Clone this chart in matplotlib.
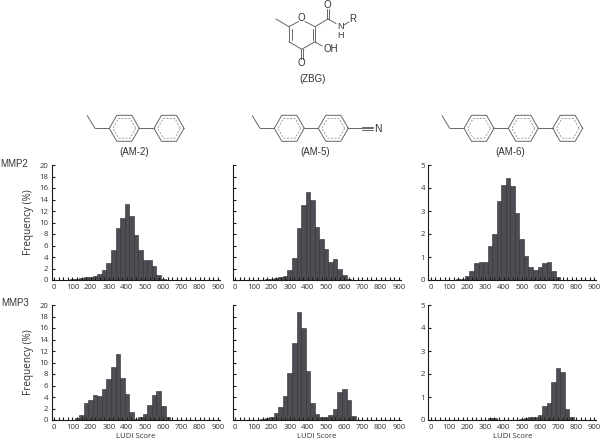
import numpy as np
import matplotlib
matplotlib.use('Agg')
import matplotlib.pyplot as plt

# frequency (%) per 25-wide LUDI score bin, first value belongs to the *_start bin
am2_mmp2_start = 100
am2_mmp2 = [0.1, 0.2, 0.4, 0.45, 0.55, 0.7, 1.1, 1.8, 2.9, 5.3, 9.1, 10.7, 13.2, 11.2, 7.8, 5.3,
            3.5, 3.4, 2.5, 0.8, 0.2]
am5_mmp2_start = 175
am5_mmp2 = [0.1, 0.25, 0.3, 0.5, 0.7, 1.7, 3.8, 9.1, 13.0, 15.3, 13.9, 9.2, 7.1, 5.4, 3.2, 3.6,
            2.0, 0.85, 0.1]
am6_mmp2_start = 150
am6_mmp2 = [0.05, 0.05, 0.18, 0.4, 0.72, 0.8, 0.8, 1.5, 2.0, 3.45, 4.15, 4.45, 4.1, 2.9, 1.8,
            1.05, 0.55, 0.43, 0.55, 0.72, 0.8, 0.38, 0.15]
am2_mmp3_start = 125
am2_mmp3 = [0.3, 0.9, 3.0, 3.5, 4.3, 4.2, 5.4, 7.2, 9.2, 11.5, 7.3, 4.6, 1.4, 0.2, 0.5, 1.1, 2.6,
            4.4, 5.1, 2.4, 0.5, 0.05]
am5_mmp3_start = 150
am5_mmp3 = [0.15, 0.4, 0.6, 1.3, 2.3, 4.2, 8.2, 13.4, 18.7, 16.0, 8.5, 3.0, 1.0, 0.5, 0.55, 0.9,
            2.0, 4.8, 5.4, 3.4, 0.7]
am6_mmp3_start = 300
am6_mmp3 = [0.02, 0.07, 0.07, 0.0, 0.0, 0.0, 0.0, 0.0, 0.03, 0.07, 0.13, 0.13, 0.2, 0.6, 0.75,
            1.65, 2.25, 2.08, 0.5, 0.13]

bin_width = 25
x_ticks = list(range(0, 901, 100))
y_ticks_am2_am5 = list(range(0, 21, 2))
y_ticks_am6 = list(range(0, 6))

W, H = 600, 441
plt.rcParams['font.family'] = ['Open Sans', 'DejaVu Sans']
fig = plt.figure(figsize=(W / 100, H / 100), dpi=100)

TXT = '#333333'
LINE = '#666666'
AXC = '#1a1a1a'


def add_hist(left, y_top, y_bottom, start, values, yticks, show_labels, ylab, xlab):
    # left = pixel of the y axis, tick 0 sits 2.6px right of it
    px_per_unit = 163.4 / 900
    x_min = -2.6 / px_per_unit
    x_max = 912
    width = (x_max - x_min) * px_per_unit
    ax = fig.add_axes([left / W, 1 - y_bottom / H, width / W, (y_bottom - y_top) / H])
    bins = [start + bin_width * i for i in range(len(values))]
    ax.bar(bins, values, width=bin_width, color='#4d4d53', edgecolor='#2e2e32', linewidth=0.4)
    ax.set_xlim(x_min, x_max)
    ax.set_ylim(0, yticks[-1])
    ax.spines['top'].set_visible(False)
    ax.spines['right'].set_visible(False)
    for s in ['left', 'bottom']:
        ax.spines[s].set_linewidth(0.8)
        ax.spines[s].set_color(AXC)
    ax.set_xticks(x_ticks)
    ax.set_xticks(np.arange(0, 901, bin_width), minor=True)
    ax.tick_params(axis='x', which='major', direction='in', length=2.2, width=0.8, labelsize=5.6,
                   pad=3, labelcolor=TXT, color=AXC)
    ax.tick_params(axis='x', which='minor', direction='in', length=2.2, width=0.8, color=AXC)
    ax.set_yticks(yticks)
    ax.tick_params(axis='y', direction='in', length=2.5, width=0.8, labelsize=5.6, pad=2.5,
                   labelcolor=TXT, color=AXC, labelleft=show_labels)
    if ylab:
        fig.text(28 / W, 1 - (y_top + y_bottom) / 2 / H, 'Frequency (%)', rotation=90,
                 ha='center', va='center', fontsize=7.2, color=TXT)
    if xlab:
        fig.text((left + 2.6 + 81.7) / W, 1 - 437 / H, 'LUDI Score', ha='center', va='center',
                 fontsize=5.6, color=TXT)
    return ax


add_hist(51.7, 165, 280, am2_mmp2_start, am2_mmp2, y_ticks_am2_am5, True, True, False)
add_hist(232.7, 165, 280, am5_mmp2_start, am5_mmp2, y_ticks_am2_am5, False, False, False)
add_hist(428.3, 165, 280, am6_mmp2_start, am6_mmp2, y_ticks_am6, True, False, False)
add_hist(51.7, 305, 420, am2_mmp3_start, am2_mmp3, y_ticks_am2_am5, True, True, True)
add_hist(232.7, 305, 420, am5_mmp3_start, am5_mmp3, y_ticks_am2_am5, False, False, True)
add_hist(428.3, 305, 420, am6_mmp3_start, am6_mmp3, y_ticks_am6, True, False, True)

# overlay in pixel coords for the structures and loose labels
ov = fig.add_axes([0, 0, 1, 1], zorder=5)
ov.set_xlim(0, W)
ov.set_ylim(H, 0)
ov.axis('off')


def bond(x0, y0, x1, y1, lw=0.7, ls='-'):
    ov.plot([x0, x1], [y0, y1], color=LINE, lw=lw, ls=ls, solid_capstyle='round')


def ring(cx, cy, r=15):
    ang = np.deg2rad(np.arange(0, 361, 60))
    ov.plot(cx + r * np.cos(ang), cy + r * np.sin(ang), color=LINE, lw=0.7)
    r2 = r * 0.76
    ov.plot(cx + r2 * np.cos(ang), cy + r2 * np.sin(ang), color='#808080', lw=0.5, ls=(0, (3, 2)))


def tail(x, y):
    bond(x, y, x - 14.3, y)
    bond(x - 14.3, y, x - 22, y - 12.6)


def label(x, y, s, size=7):
    ov.text(x, y, s, ha='center', va='center', fontsize=size, color=TXT,
            family=['Liberation Sans', 'DejaVu Sans'])


# AM-2
ring(124.3, 128.3)
ring(169, 128.3)
tail(109.3, 128.3)
bond(139.3, 128.3, 154, 128.3)
# AM-5
ring(289.3, 128.3)
ring(333.3, 128.3)
tail(274.3, 128.3)
bond(304.3, 128.3, 318.3, 128.3)
bond(348.3, 128.3, 361.7, 128.3)
bond(361.7, 128.3, 372.5, 128.3)
bond(361.7, 126.6, 372.5, 126.6)
bond(361.7, 130, 372.5, 130)
label(377.5, 128.5, 'N', 7.5)
# AM-6
ring(479, 128.3)
ring(523.3, 128.3)
ring(567.7, 128.3)
tail(464, 128.3)
bond(494, 128.3, 508.3, 128.3)
bond(538.3, 128.3, 552.7, 128.3)

# ZBG
bond(298.5, 21.5, 289, 26.7)
bond(305, 21.5, 315, 26.7)
bond(315, 26.7, 315, 41.7)
bond(312.5, 28.5, 312.5, 40)
bond(315, 41.7, 301.7, 49.3)
bond(301.7, 49.3, 289, 41.7)
bond(289, 41.7, 289, 26.7)
bond(291.5, 40, 291.5, 28.5)
bond(289, 26.7, 276, 19)
bond(300.5, 49.3, 300.5, 58.5)
bond(303, 49.3, 303, 58.5)
bond(315, 41.7, 322, 46)
bond(315, 26.7, 328, 19)
bond(326.8, 19, 326.8, 9)
bond(329.2, 19, 329.2, 9)
bond(328, 19, 336, 23.5)
bond(344, 25, 349, 22)
label(301.7, 18, 'O', 7)
label(301.7, 63.5, 'O', 7)
label(331, 48.5, 'OH', 7)
label(327.3, 4.5, 'O', 7)
label(340, 26.5, 'N', 6.5)
label(340, 35.5, 'H', 6.5)
label(353, 19, 'R', 7)
label(313, 79.5, '(ZBG)')

label(134, 151.7, '(AM-2)')
label(314.7, 151.7, '(AM-5)')
label(510.7, 151.7, '(AM-6)')
label(14, 164, 'MMP2')
label(15, 303, 'MMP3')

fig.savefig('out.png', dpi=100)
